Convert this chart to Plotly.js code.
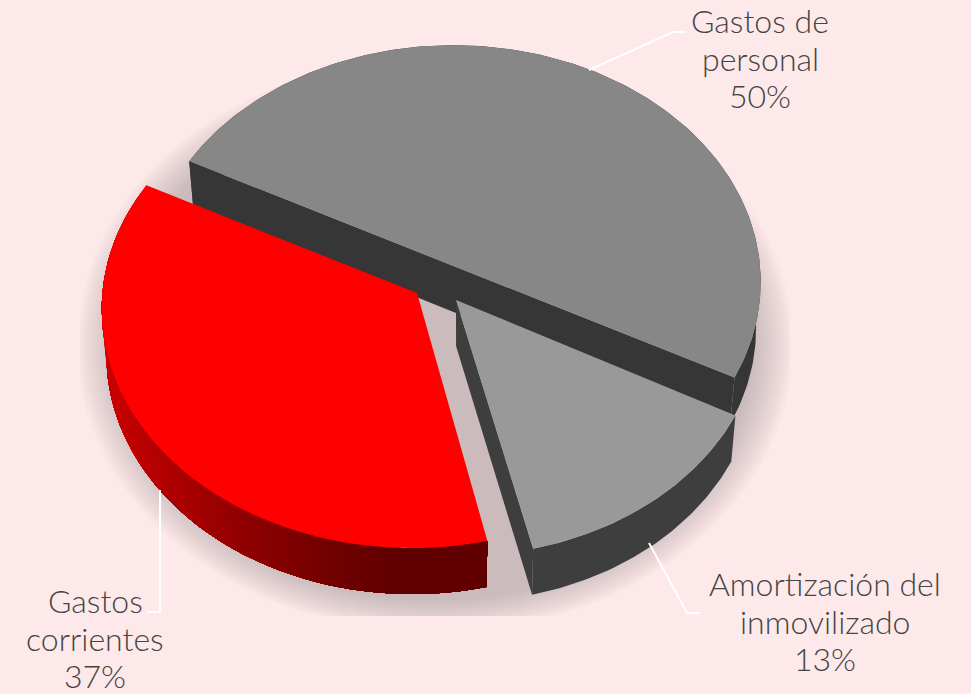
<!DOCTYPE html>
<html>
<head>
<meta charset="utf-8">
<script src="https://cdn.plot.ly/plotly-3.0.1.min.js"></script>
<style>html,body{margin:0;padding:0;background:#fee9ea}#c{width:971px;height:694px}</style>
</head>
<body>
<div id="c"></div>
<script>
// Data
const categories = [["Gastos de", "personal"], ["Amortización del", "inmovilizado"], ["Gastos", "corrientes"]];
const percentLabels = ["50%", "13%", "37%"];
const values = [50, 13.4, 36.6];

// Drawing style
const topColors = ["#878787", "#999999", "#ff0000"];
const wallColors = ["#363636", "#3e3e3e", null];
const labelX = [760, 825, 95];
const labelY = [20.5, 583.5, 600.5];
const LINE_GAP = 37.5;

const START = 27.3, FX = 305, FY = 238, K = 0.067, DEPTH = 46, SHRINK = 0.985;
const wedgeGeom = [
  {cx: 453.5, cy: 266, ax: 453.5, ay: 266, sx: 1.005, sy: 0.99},
  {cx: 460, cy: 304.5, ax: 456, ay: 300, sx: 0.985, sy: 0.985},
  {cx: 412, cy: 293, ax: 417, ay: 293, sx: 1.015, sy: 1}
];
const BOUNDARY_NUDGE = 1.3;   // small angular correction for the exploded wedges' perspective

// angular extents derived from values
const total = values.reduce((a, b) => a + b, 0);
const sweep = values.map(v => v / total * 360);
const mid = START + sweep[1] + BOUNDARY_NUDGE;
const ext = [
  [START - sweep[0], START],
  [START, mid],
  [mid, START + sweep[1] + sweep[2] + 0.5]
];

function rad(d) { return d * Math.PI / 180; }
function pt(g, a) {
  const d = 1 - K * Math.sin(rad(a));
  return [g.cx + g.sx * FX * Math.cos(rad(a)) / d, g.cy + g.sy * FY * Math.sin(rad(a)) / d];
}
function low(g, p) { return [g.cx + (p[0] - g.cx) * SHRINK, p[1] + DEPTH]; }
function arc(g, a0, a1, n) {
  const r = [];
  for (let i = 0; i <= n; i++) r.push(pt(g, a0 + (a1 - a0) * i / n));
  return r;
}
const traces = [];
function poly(pts, color) {
  const xs = pts.map(p => p[0]), ys = pts.map(p => p[1]);
  xs.push(xs[0]); ys.push(ys[0]);
  traces.push({type: "scatter", mode: "lines", x: xs, y: ys, fill: "toself", fillcolor: color,
    line: {width: 0, color: color}, hoverinfo: "skip", showlegend: false});
}
function line(pts, color, w) {
  traces.push({type: "scatter", mode: "lines", x: pts.map(p => p[0]), y: pts.map(p => p[1]),
    line: {width: w, color: color}, hoverinfo: "skip", showlegend: false});
}

// soft shadow under the pie
const LAYERS = 14;
for (let i = 0; i < LAYERS; i++) {
  const f = 1 - i * 0.0085;
  const pts = [];
  for (let a = 0; a < 360; a += 3) {
    const x = 435 + 358 * f * Math.cos(rad(a));
    const y = 345 + 288 * f * Math.sin(rad(a));
    pts.push([Math.max(80, Math.min(790, x)), Math.min(616, y)]);
  }
  poly(pts, "rgba(115,100,100,0.028)");
}

// Large grey wedge
{
  const g = wedgeGeom[0], [a0, a1] = ext[0];
  const top = arc(g, a0, a1, 180);
  poly(top.concat(top.slice().reverse().map(p => low(g, p))), wallColors[0]);
  const p0 = top[0], p1 = top[top.length - 1];
  poly([p0, p1, low(g, p1), low(g, p0)], wallColors[0]);
  poly(top, topColors[0]);
}
// Small grey wedge
{
  const g = wedgeGeom[1], [a0, a1] = ext[1];
  const top = arc(g, a0, a1, 60);
  const apex = [g.ax, g.ay];
  poly(top.concat(top.slice().reverse().map(p => low(g, p))), wallColors[1]);
  const e = top[top.length - 1];
  poly([apex, e, low(g, e), low(g, apex)], wallColors[1]);
  poly([apex].concat(top), topColors[1]);
}
// Red wedge with shaded wall: each strip runs on to the wedge's far end, so no seams show
{
  const g = wedgeGeom[2], [a0, a1] = ext[2];
  const N = 70;
  const top = arc(g, a0, a1, N);
  for (let i = N - 1; i >= 0; i--) {
    const run = top.slice(0, i + 2);
    const mx = (top[i][0] + top[i + 1][0]) / 2;
    const t = Math.max(0, Math.min(1, (400 - mx) / 300));
    const r = Math.round(96 + 108 * Math.pow(t, 1.25));
    poly(run.concat(run.slice().reverse().map(p => low(g, p))), `rgb(${r},0,0)`);
  }
  poly([[g.ax, g.ay]].concat(top), topColors[2]);
}

// Leader lines
line([[589, 70], [673, 32], [686, 32]], "#ffffff", 2);
line([[649, 543], [687, 613], [700, 613]], "#ffffff", 2);
line([[160, 490], [160, 612], [147, 612]], "#ffffff", 2);

const annotations = [];
categories.forEach((c, i) => {
  c.concat([percentLabels[i]]).forEach((t, j) => {
    annotations.push({
      x: labelX[i], y: labelY[i] + j * LINE_GAP, xref: "x", yref: "y", showarrow: false,
      text: t, align: "center", xanchor: "center", yanchor: "middle",
      font: {family: "Lato, sans-serif", size: 32, weight: 300, color: "#444444"}
    });
  });
});

Plotly.newPlot("c", traces, {
  width: 971, height: 694,
  margin: {l: 0, r: 0, t: 0, b: 0},
  paper_bgcolor: "#fee9ea", plot_bgcolor: "#fee9ea",
  xaxis: {range: [0, 971], visible: false, fixedrange: true},
  yaxis: {range: [694, 0], visible: false, fixedrange: true},
  showlegend: false, hovermode: false, annotations
}, {displayModeBar: false, staticPlot: true});
</script>
</body>
</html>
